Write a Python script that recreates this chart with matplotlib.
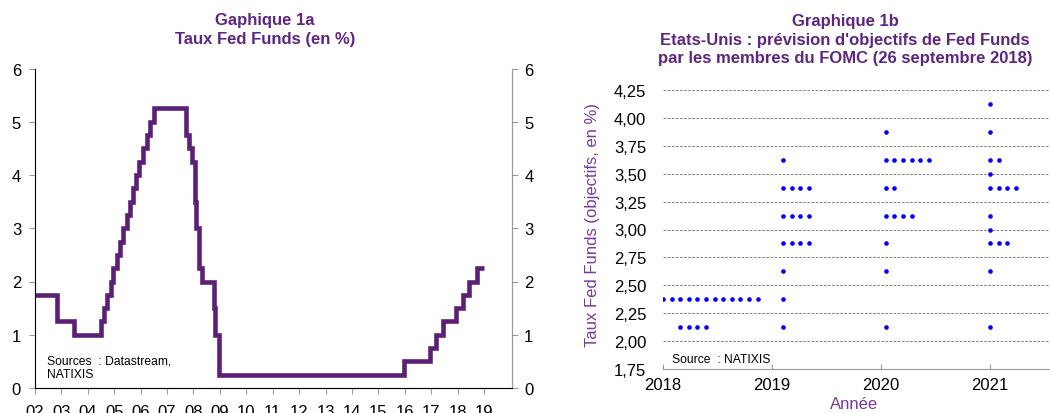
import numpy as np
import pandas as pd
import matplotlib
matplotlib.use("Agg")
import matplotlib.pyplot as plt
from matplotlib.ticker import FuncFormatter

plt.rcParams['font.family'] = ['Liberation Sans', 'DejaVu Sans']

# --- Graphique 1a : Fed Funds target (%) ---
fed_dates = ["2002-01-01", "2002-11-06", "2003-06-25", "2004-06-30", "2004-08-10",
             "2004-09-21", "2004-11-10", "2004-12-14", "2005-02-02", "2005-03-22",
             "2005-05-03", "2005-06-30", "2005-08-09", "2005-09-20", "2005-11-01",
             "2005-12-13", "2006-01-31", "2006-03-28", "2006-05-10", "2006-06-29",
             "2007-09-18", "2007-10-31", "2007-12-11", "2008-01-22", "2008-01-30",
             "2008-03-18", "2008-04-30", "2008-10-08", "2008-10-29", "2008-12-16",
             "2015-12-16", "2016-12-14", "2017-03-15", "2017-06-14", "2017-12-13",
             "2018-03-21", "2018-06-13", "2018-09-26", "2018-12-31"]
fed_rates = [1.75, 1.25, 1.00, 1.25, 1.50,
             1.75, 2.00, 2.25, 2.50, 2.75,
             3.00, 3.25, 3.50, 3.75, 4.00,
             4.25, 4.50, 4.75, 5.00, 5.25,
             4.75, 4.50, 4.25, 3.50, 3.00,
             2.25, 2.00, 1.50, 1.00, 0.25,
             0.50, 0.75, 1.00, 1.25, 1.50,
             1.75, 2.00, 2.25, 2.25]
year_ticks = list(range(2002, 2020))

# --- Graphique 1b : FOMC dot plot (26 septembre 2018) ---
rates_2018 = [2.375, 2.125]
counts_2018 = [12, 4]
rates_2019 = [3.625, 3.375, 3.125, 2.875, 2.625, 2.375, 2.125]
counts_2019 = [1, 4, 4, 4, 1, 1, 1]
rates_2020 = [3.875, 3.625, 3.375, 3.125, 2.875, 2.625, 2.125]
counts_2020 = [1, 6, 2, 4, 1, 1, 1]
rates_2021 = [4.125, 3.875, 3.625, 3.5, 3.375, 3.125, 3.0, 2.875, 2.625, 2.125]
counts_2021 = [1, 1, 2, 1, 4, 1, 1, 3, 1, 1]
dot_years = [2018, 2019, 2020, 2021]

purple = '#5c1f78'
title_purple = '#5f2580'
label_purple = '#7a3a9c'
spine_gray = '#9a9a9a'

fig = plt.figure(figsize=(10.5, 4.14), dpi=100)

# ---------------- left chart ----------------
ax1 = fig.add_axes([35 / 1050, 25 / 414, 476.7 / 1050, 319.5 / 414])
d = pd.to_datetime(fed_dates)
x = d.year + (d.dayofyear - 1) / 365.25
ax1.step(x, fed_rates, where='post', color=purple, lw=3.3,
         solid_joinstyle='miter', solid_capstyle='butt')
ax1.set_xlim(2002, 2020.05)
ax1.set_ylim(0, 6)
ax1.set_yticks(range(0, 7))
ax1.set_xticks(year_ticks)
ax1.set_xticklabels([f"{y % 100:02d}" for y in year_ticks])
ax1.spines['top'].set_visible(False)
for s in ['left', 'right', 'bottom']:
    ax1.spines[s].set_color(spine_gray)
ax1.tick_params(axis='both', colors=spine_gray, labelcolor='black', labelsize=12,
                length=4, direction='out')
ax1.tick_params(axis='x', pad=7.5)
ax1.tick_params(axis='y', pad=6)
ax1r = ax1.twinx()
ax1r.set_ylim(0, 6)
ax1r.set_yticks(range(0, 7))
ax1r.spines['top'].set_visible(False)
ax1r.spines['right'].set_color(spine_gray)
ax1r.tick_params(axis='y', colors=spine_gray, labelcolor='black', labelsize=12,
                 length=4, direction='out', pad=5)
ax1.text(12 / 476.7, (414 - 368 - 25) / 319.5, "Sources  : Datastream,\nNATIXIS",
         transform=ax1.transAxes, fontsize=8.7, va='center', ha='left',
         linespacing=1.15)
fig.text(265 / 1050, 1 - 30 / 414, "Gaphique 1a\nTaux Fed Funds (en %)",
         ha='center', va='center', fontsize=12, fontweight='bold',
         color=title_purple, linespacing=1.32)

# ---------------- right chart ----------------
ax2 = fig.add_axes([663 / 1050, 44 / 414, 387 / 1050, 279 / 414])
col_start = {2018: 0.0, 2019: 0.10, 2020: 0.043, 2021: 0.0}
row_shift = {(2018, 2.125): 2}
step = 0.079
all_rates = [rates_2018, rates_2019, rates_2020, rates_2021]
all_counts = [counts_2018, counts_2019, counts_2020, counts_2021]
xs, ys = [], []
for yr, rr, cc in zip(dot_years, all_rates, all_counts):
    for r, c in zip(rr, cc):
        k0 = row_shift.get((yr, r), 0)
        for k in range(c):
            xs.append(yr + col_start[yr] + (k0 + k) * step)
            ys.append(r)
ax2.scatter(xs, ys, s=11, color='#0000ff', zorder=3, linewidths=0)
ax2.set_xlim(2018, 2018 + 387 / 109)
ax2.set_ylim(1.75, 4.25)
ax2.set_yticks(np.arange(1.75, 4.26, 0.25))
ax2.yaxis.set_major_formatter(FuncFormatter(lambda v, p: f"{v:.2f}".replace('.', ',')))
ax2.set_xticks(dot_years)
for yv in np.arange(2.0, 4.26, 0.25):
    ax2.axhline(yv, color='#8a8a8a', lw=0.8, ls=(0, (2.4, 1.3)), zorder=1)
for s in ['left', 'right', 'top']:
    ax2.spines[s].set_visible(False)
ax2.spines['bottom'].set_color(spine_gray)
ax2.tick_params(axis='y', length=0, labelsize=12, pad=12)
ax2.tick_params(axis='x', direction='in', length=3.5, colors=spine_gray,
                labelcolor='black', labelsize=12, pad=6)
ax2.set_ylabel("Taux Fed Funds (objectifs, en %)", color=label_purple, fontsize=12)
ax2.yaxis.set_label_coords(-0.163, 0.52)
fig.text(854 / 1050, 1 - 405 / 414, "Année", color=label_purple, fontsize=12,
         ha='center', va='center')
ax2.text(9 / 387, 10 / 279, "Source  : NATIXIS", transform=ax2.transAxes,
         fontsize=8.7, va='center', ha='left')
fig.text(845 / 1050, 1 - 40 / 414,
         "Graphique 1b\nEtats-Unis : prévision d'objectifs de Fed Funds\n"
         "par les membres du FOMC (26 septembre 2018)",
         ha='center', va='center', fontsize=12, fontweight='bold',
         color=title_purple, linespacing=1.32)

fig.savefig("out.png", dpi=100)
